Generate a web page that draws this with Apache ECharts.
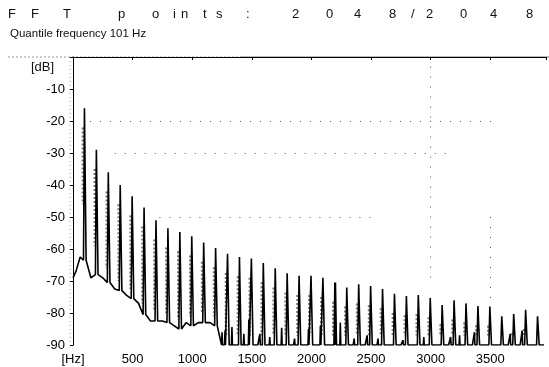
<!DOCTYPE html>
<html><head><meta charset="utf-8">
<script src="https://cdn.jsdelivr.net/npm/echarts@6/dist/echarts.min.js"></script>
<style>html,body{margin:0;padding:0;background:#fff}#c{width:549px;height:367px}</style>
</head><body><div id="c"></div>
<script>
const titleChars = ['F','F','T','p','o','i','n','t','s',':','2','0','4','8','/','2','0','4','8'];
const subtitle = 'Quantile frequency 101 Hz';
const xTickValues = [0,500,1000,1500,2000,2500,3000,3500];
const xTickLabels = ['[Hz]','500','1000','1500','2000','2500','3000','3500'];
const yUnit = '[dB]';

const harmonicHz = [100,200,300,400,500,600,700,800,900,1000,1100,1200,1300,1400,1500,1600,1700,1800,1900,2000,2100,2200,2300,2400,2500,2600,2700,2800,2900,3000,3100,3200,3300,3400,3500,3600,3700,3800,3900];
const peakDb = [-16,-29,-36,-40,-43.5,-47,-51,-53.5,-54.7,-56,-58,-59.7,-61.5,-62.5,-63,-64.4,-66,-67.6,-68.4,-68.4,-69,-70.5,-72,-71,-71.6,-72.5,-74,-74.7,-74.4,-75.3,-77.5,-76,-77,-77.8,-78,-81,-80.3,-79,-81];
const footDb = [-63.5,-68,-70.5,-73,-75.5,-80.5,-82.5,-83,-85,-84,-83,-84,-90,-90,-90,-90,-90,-90,-90,-90,-90,-90,-90,-90,-90,-90,-90,-90,-90,-90,-90,-90,-90,-90,-90,-90,-90,-90,-90];
const gapDb = [-69,-69,-72.5,-74.5,-77,-82.5,-82.5,-84,-83,-83,-83,-90,-90,-90,-90,-90,-90,-90,-90,-90,-90,-90,-90,-90,-90,-90,-90,-90,-90,-90,-90,-90,-90,-90,-90,-90,-90,-90,-90];
const startHz = [0,25,60];
const startDb = [-69,-67,-62.5];
const bumpHz = [1250,1275,1333,1433,1475,1567,1650,1750,1858,1975,2075,2192,2242,2358,2467,2558,2767,2942,3167,3242,3367,3667,3767];
const bumpDb = [-86,-85.5,-84.4,-86.5,-82,-86.5,-87.5,-84.6,-88,-85,-84,-83,-83,-88,-87,-88,-88.5,-87.5,-87.5,-87,-86,-86.5,-85.5];

const dotLinesHz = [[142,3533],[350,3140],[725,2500],[3000,3000],[3500,3500]];
const dotLinesDb = [[-20,-20],[-30,-30],[-50,-50],[-3,-70],[-50,-76]];

const main = startHz.map((h,i)=>[h,startDb[i]]);
harmonicHz.forEach((f,i)=>{
  main.push([f-12,footDb[i]],[f-4,peakDb[i]],[f+1,peakDb[i]],[f+10,footDb[i]]);
  main.push([f+50,gapDb[i]]);
});
bumpHz.forEach((h,i)=>{ main.push([h-4,-90],[h,bumpDb[i]],[h+4,-90]); });
main.sort((a,b)=>a[0]-b[0]);

const dotted = [];
harmonicHz.forEach((f,i)=>{
  dotted.push([f-17,peakDb[i]-6],[f-17,Math.max(peakDb[i]-30,footDb[i]+3)],[f-17,'-']);
});

const chart = echarts.init(document.getElementById('c'),null,{renderer:'canvas'});
const sans = "'Liberation Sans',Arial,sans-serif";
const titleX = [12,35,67,122,156,177,185,207,220,250,296,330,358,393,415,430,464,494,530];
const graphics = titleChars.map((ch,i)=>({type:'text',left:titleX[i]-4,top:8,style:{text:ch,font:"13px "+sans,fill:'#111'}}));
graphics.push({type:'text',left:10,top:28,style:{text:subtitle,font:"11.5px "+sans,fill:'#111'}});
graphics.push({type:'text',left:31,top:61,style:{text:yUnit,font:"13px "+sans,fill:'#111'}});
graphics.push({type:'line',shape:{x1:8,y1:57,x2:240,y2:57},style:{stroke:'#999',lineWidth:1,lineDash:[2,2]}});
graphics.push({type:'line',shape:{x1:240,y1:57,x2:549,y2:57},style:{stroke:'#777',lineWidth:1}});
graphics.push({type:'line',shape:{x1:70,y1:57,x2:70,y2:345},style:{stroke:'#999',lineWidth:1,lineDash:[1,3]}});

chart.setOption({
  animation:false,
  backgroundColor:'#fff',
  grid:{left:73,right:0,top:57,bottom:22,containLabel:false},
  xAxis:{type:'value',min:0,max:3967,interval:500,
    axisLine:{show:true,lineStyle:{color:'#000',width:1}},
    axisTick:{show:true,length:3,lineStyle:{color:'#000'}},
    splitLine:{show:false},
    axisLabel:{margin:8,fontSize:13,fontFamily:sans,color:'#000',
      formatter:v=>{const k=xTickValues.indexOf(v);return k<0?'':xTickLabels[k];}}},
  yAxis:{type:'value',min:-90,max:0,interval:10,
    axisLine:{show:true,lineStyle:{color:'#000',width:1}},
    axisTick:{show:true,length:3,lineStyle:{color:'#000'}},
    splitLine:{show:false},
    axisLabel:{margin:8,fontSize:13,fontFamily:sans,color:'#000',formatter:v=>v===0?'':String(v)}},
  graphic:graphics,
  series:[
    {type:'line',data:dotted,showSymbol:false,connectNulls:false,z:3,
     lineStyle:{color:'#777',width:2.5,type:[2,2]}},
    {type:'line',data:main,showSymbol:false,z:4,
     lineStyle:{color:'#000',width:1.6},
     markLine:{silent:true,symbol:'none',label:{show:false},
       lineStyle:{color:'#555',width:1,type:[1,9]},
       data:dotLinesHz.map((h,i)=>[{coord:[h[0],dotLinesDb[i][0]]},{coord:[h[1],dotLinesDb[i][1]]}])}}
  ]
});
</script></body></html>
